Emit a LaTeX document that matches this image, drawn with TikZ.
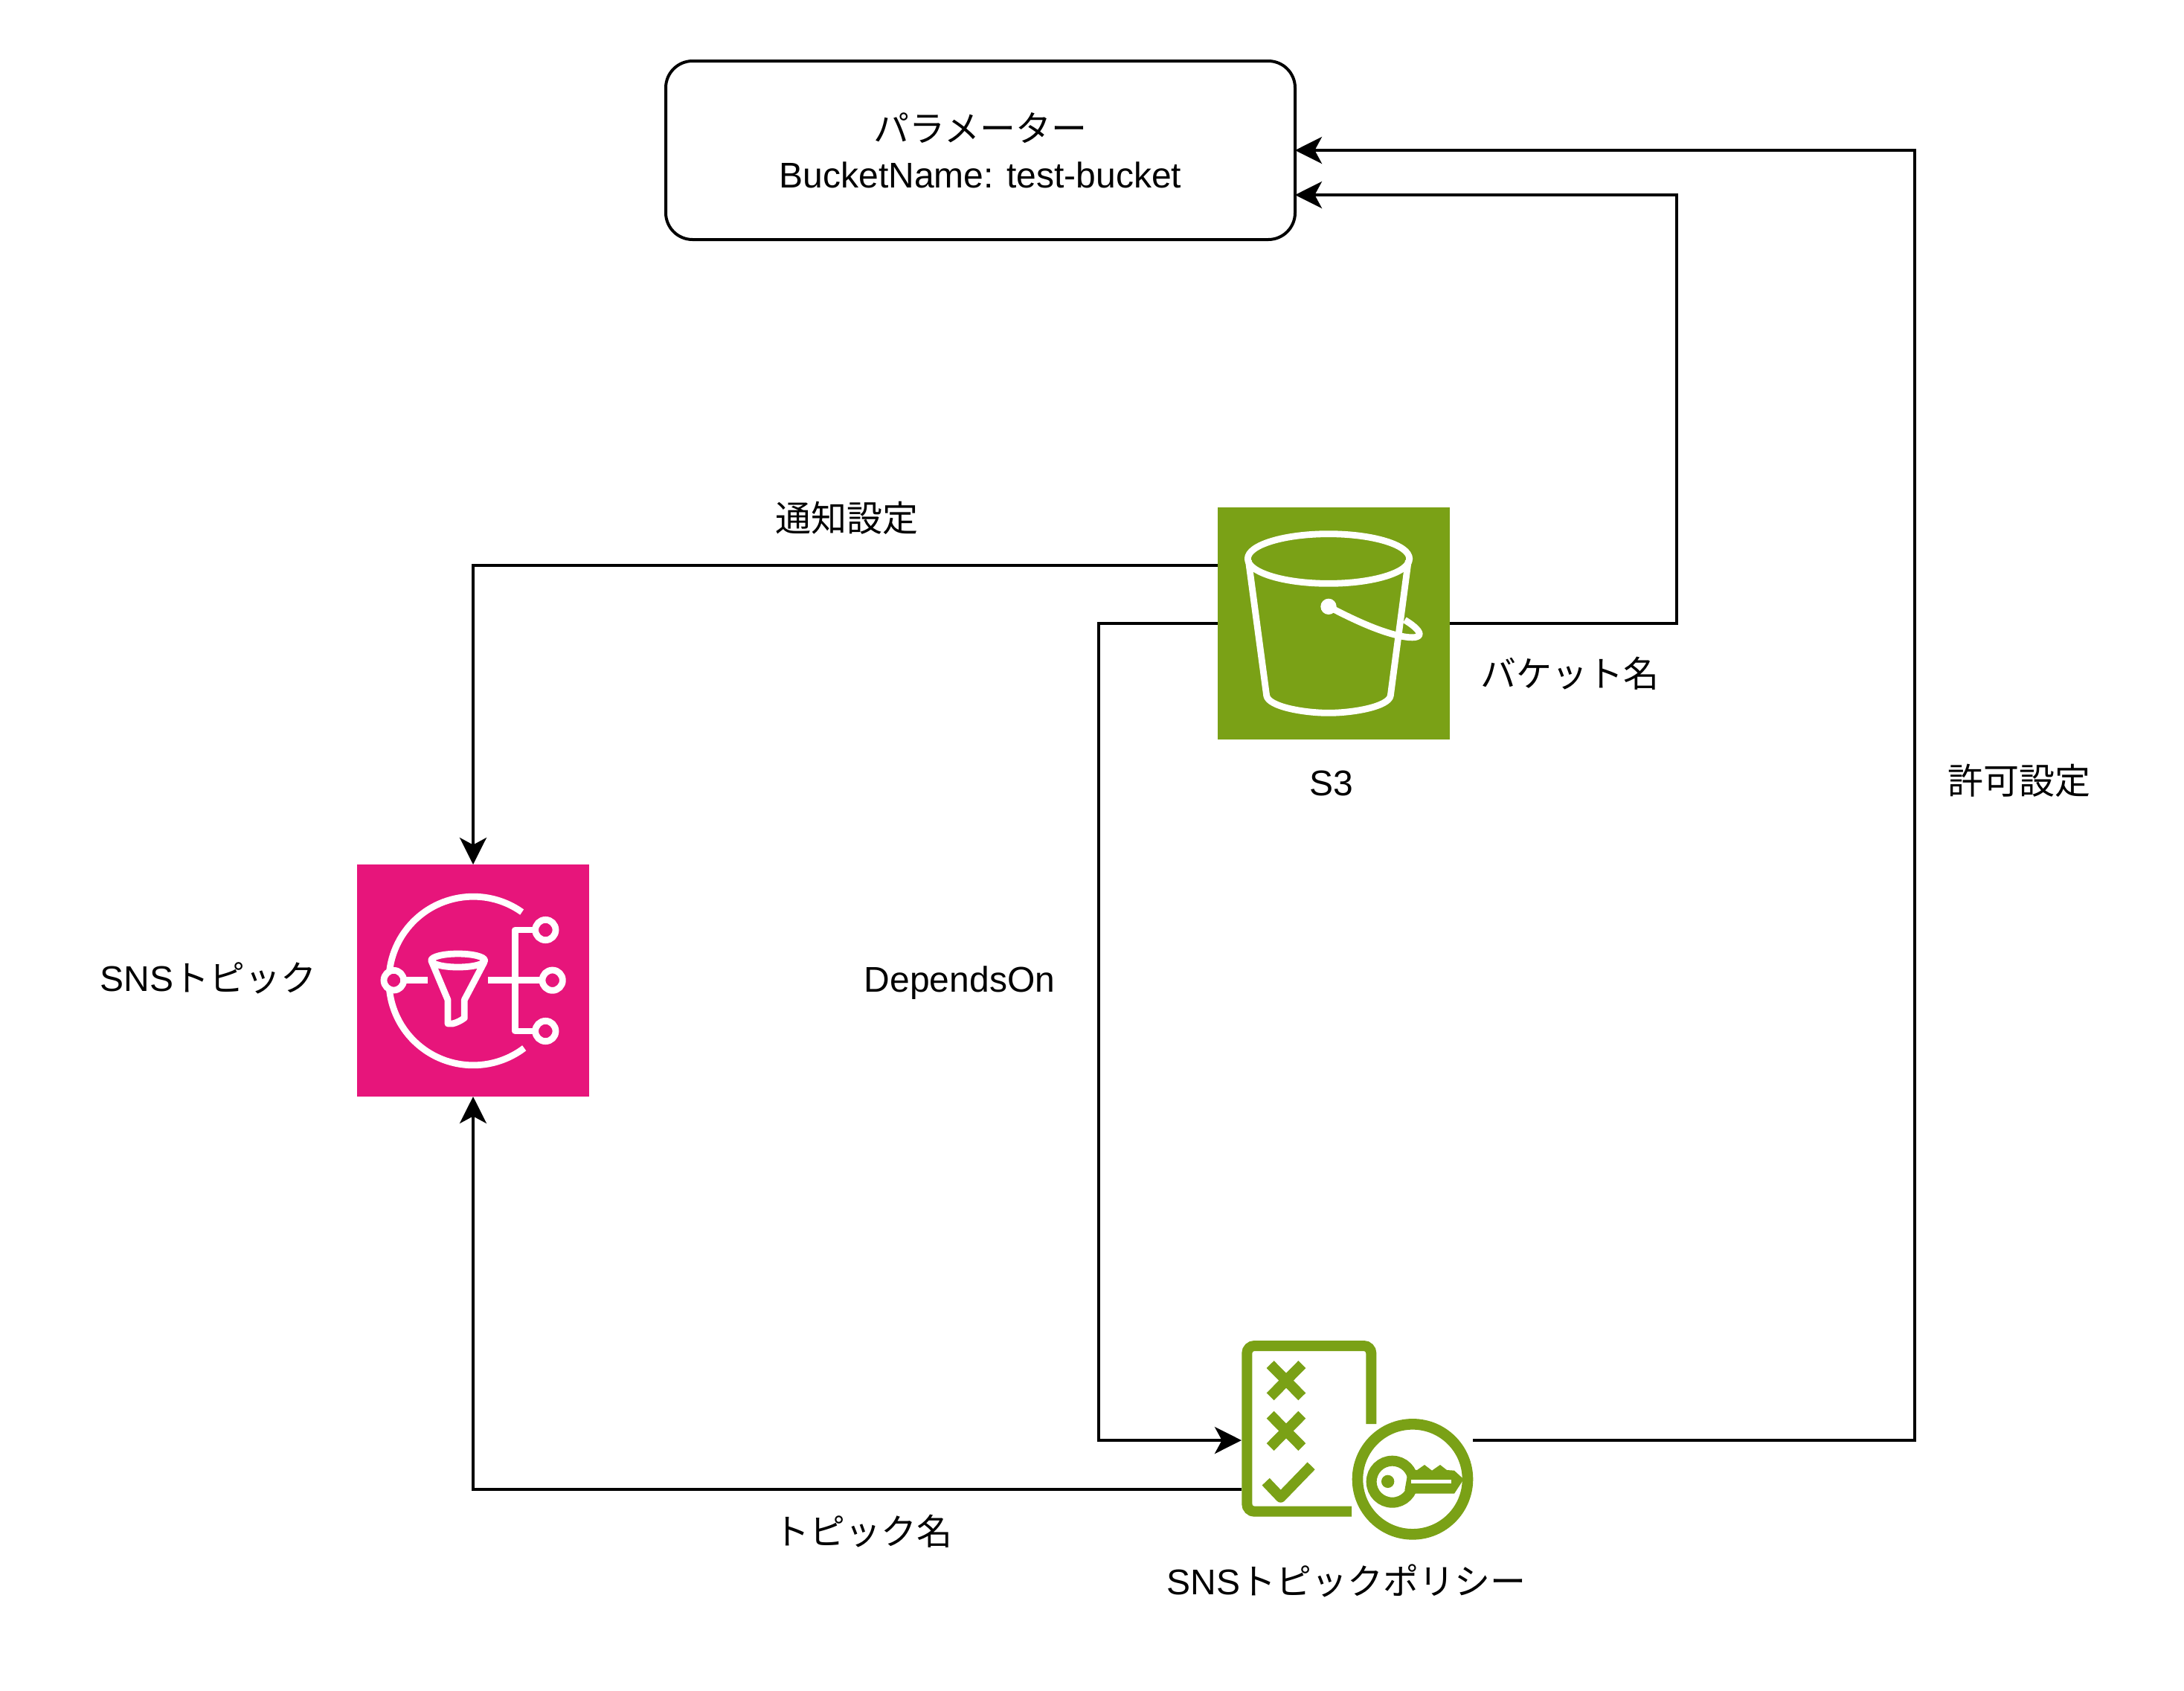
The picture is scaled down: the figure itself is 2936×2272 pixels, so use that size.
\documentclass[tikz,border=0pt]{standalone}
\usepackage{fontspec}
\usetikzlibrary{arrows.meta}
\setmainfont{Liberation Sans}
\newfontfamily\jp{Noto Sans CJK JP}
\definecolor{awsgreen}{HTML}{7AA116}
\definecolor{awspink}{HTML}{E7157B}
\tikzset{
  conn/.style={line width=1pt,-{Stealth[length=9pt,width=9pt,inset=2.4pt]}},
  plainline/.style={line width=1pt},
  label/.style={anchor=base,inner sep=0pt,font=\fontsize{12}{14}\selectfont},
  iconbox/.style={minimum size=78pt,inner sep=0pt,outer sep=0pt,draw=none},
  whiteink/.style={draw=white,line width=2.2pt,line join=round},
  greenink/.style={draw=awsgreen,line width=3.5pt},
}
\begin{document}
\begin{tikzpicture}[x=.25pt,y=-.25pt]
\useasboundingbox (0,0) rectangle (2936,2272);
\fill[white] (0,0) rectangle (2936,2272);

% parameter box
\node[draw,line width=1pt,rounded corners=9pt,minimum width=211.5pt,minimum height=60pt,inner sep=0pt,outer sep=0pt,align=center,font=\fontsize{12}{15.5}\selectfont] (param) at (1318,202) {{\jp パラメーター}\\BucketName: test-bucket};
\coordinate (paramlow) at (1741,262);

% icons
\node[iconbox,fill=awsgreen] (s3) at (1793,838) {};
\node[iconbox,fill=awspink] (sns) at (636,1318) {};
\node[minimum width=77.75pt,minimum height=66.75pt,inner sep=0pt,outer sep=0pt] (policy) at (1824.5,1936) {};
\coordinate (s3up) at (1637,760);
\coordinate (policylow) at (1669,2002);

% bucket glyph
\begin{scope}[shift={(1620,670)},scale=0.33333]
  \draw[whiteink] (498,243) ellipse[x radius=326,y radius=100];
  \draw[whiteink] (175,250) -- (248,795) .. controls (255,840) and (400,865) .. (498,865) .. controls (596,865) and (741,840) .. (748,795) -- (820,250);
  \fill[white] (498,436) circle[radius=32];
  \draw[whiteink] (498,436) .. controls (600,490) and (700,535) .. (780,553) .. controls (820,562) and (860,566) .. (865,548) .. controls (865,530) and (830,505) .. (805,490);
\end{scope}

% SNS glyph
\begin{scope}[shift={(470,1150)},scale=0.33333]
  \draw[whiteink,line join=miter] (695,228) arc[start angle=-54.7,end angle=-307.2,radius=340];
  \draw[whiteink] (218,503) -- (315,503);
  \draw[whiteink] (558,503) -- (780,503);
  \draw[whiteink] (750,300) -- (668,300) -- (668,708) -- (750,708);
  \draw[whiteink,fill=awspink] (178,503) circle[radius=40];
  \draw[whiteink,fill=awspink] (818,503) circle[radius=41];
  \draw[whiteink,fill=awspink] (790,300) circle[radius=41];
  \draw[whiteink,fill=awspink] (790,708) circle[radius=41];
  \draw[whiteink] (437,423) ellipse[x radius=108,y radius=27];
  \draw[whiteink] (332,430) -- (396,582) -- (396,678) -- (415,678) .. controls (430,675) and (450,665) .. (463,655) -- (463,582) -- (543,430);
\end{scope}

% policy glyph
\begin{scope}[shift={(1640,1780)},scale=0.33333]
  \draw[greenink,rounded corners=2.5pt] (531,755) -- (109,755) -- (109,87) -- (610,87) -- (610,402);
  \foreach \cy in {227,430} {
    \draw[greenink] (203,\cy-65) -- (331,\cy+65);
    \draw[greenink] (331,\cy-65) -- (203,\cy+65);
  }
  \draw[greenink,line join=round] (185,635) -- (245,698) -- (368,571);
  \draw[greenink,line width=3.65pt] (777,625) circle[radius=222];
  \draw[greenink] (695,635) circle[radius=84];
  \fill[awsgreen] (677,634) circle[radius=26];
  \fill[awsgreen] (760,585) -- (795,588) -- (825,567) -- (855,590) -- (888,567) -- (915,588) -- (945,590) -- (983,625) -- (945,683) -- (785,683) -- (745,670) -- cycle;
  \draw[white,line width=1.1pt] (772,635) -- (932,635);
\end{scope}

% connectors
\draw[conn] (s3up) -- (636,760) -- (sns.north);
\draw[conn] (s3.west) -- (1477,838) -- (1477,1936) -- (policy.west);
\draw[conn] (s3.east) -- (2254,838) -- (2254,262) -- (paramlow);
\draw[conn] (policy.east) -- (2574,1936) -- (2574,202) -- (param.east);
\draw[conn] (policylow) -- (636,2002) -- (sns.south);

% labels
\node[label] (ltsuuchi) at (1138,714) {\jp 通知設定};
\node[label] (lbucket) at (2110,923) {\jp バケット名};
\node[label] (lkyoka) at (2714,1067) {\jp 許可設定};
\node[label] (ls3) at (1790,1069) {S3};
\node[label] (lsns) at (280,1332) {SNS{\jp トピック}};
\node[label] (ldep) at (1290,1333) {DependsOn};
\node[label] (ltopic) at (1160,2076) {\jp トピック名};
\node[label] (lpolicy) at (1810,2143) {SNS{\jp トピックポリシー}};
\end{tikzpicture}
\end{document}
